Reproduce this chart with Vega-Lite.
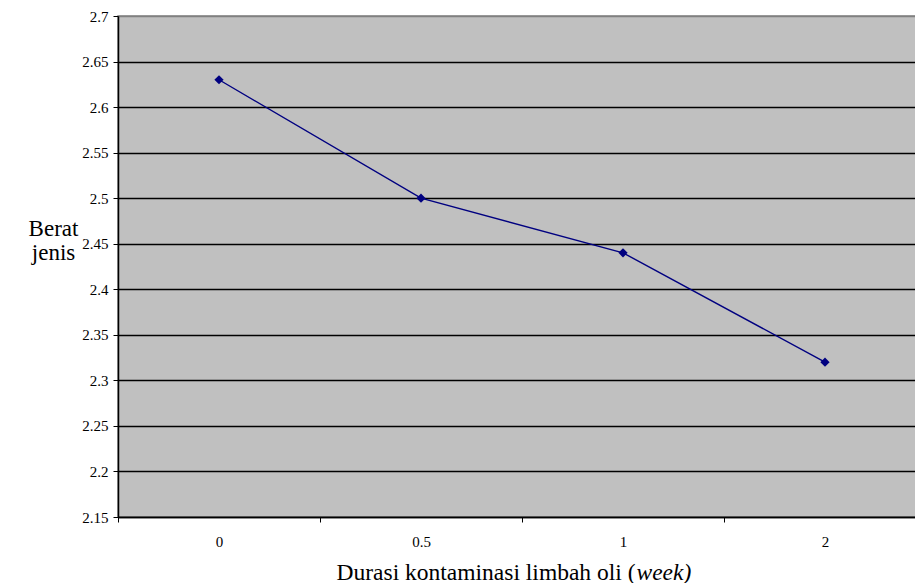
{
  "$schema": "https://vega.github.io/schema/vega-lite/v6.json",
  "autosize": {"type": "none"},
  "padding": {"left": 118, "top": 16, "right": 0, "bottom": 66},
  "width": 808,
  "height": 501,
  "background": "white",
  "config": {
    "font": "Liberation Serif",
    "view": {"fill": "#C0C0C0", "stroke": "#808080", "strokeWidth": 1.5}
  },
  "data": {
    "values": [
      {"durasi": "0", "berat": 2.63},
      {"durasi": "0.5", "berat": 2.5},
      {"durasi": "1", "berat": 2.44},
      {"durasi": "2", "berat": 2.32}
    ]
  },
  "encoding": {
    "x": {
      "field": "durasi",
      "type": "ordinal",
      "sort": null,
      "scale": {"type": "band", "paddingInner": 0, "paddingOuter": 0}
    },
    "y": {
      "field": "berat",
      "type": "quantitative",
      "scale": {"domain": [2.15, 2.7], "nice": false, "zero": false},
      "axis": {
        "title": ["Berat", "jenis"],
        "titleAngle": 0,
        "titleAlign": "center",
        "titleBaseline": "middle",
        "titleX": -65,
        "titleY": 212,
        "titleLineHeight": 24,
        "titleFont": "Liberation Serif",
        "titleFontSize": 23,
        "titleFontWeight": "normal",
        "titleColor": "black",
        "values": [2.15, 2.2, 2.25, 2.3, 2.35, 2.4, 2.45, 2.5, 2.55, 2.6, 2.65, 2.7],
        "format": "~g",
        "labelFont": "Liberation Serif",
        "labelFontSize": 15,
        "labelColor": "black",
        "labelPadding": 5,
        "tickColor": "black",
        "tickSize": 5,
        "domainColor": "black",
        "domainWidth": 1.5,
        "grid": true,
        "gridColor": {"condition": {"test": "datum.value >= 2.69", "value": "#808080"}, "value": "black"},
        "gridWidth": 1.3,
        "gridOpacity": 1
      }
    }
  },
  "resolve": {"axis": {"x": "independent"}},
  "layer": [
    {
      "mark": {"type": "line", "color": "#000080", "strokeWidth": 1.4},
      "encoding": {
        "x": {
          "field": "durasi",
          "type": "ordinal",
          "sort": null,
          "scale": {"type": "band", "paddingInner": 0, "paddingOuter": 0},
          "axis": {
            "orient": "bottom",
            "title": "Durasi kontaminasi limbah oli (",
            "titleFont": "Liberation Serif",
            "titleFontSize": 23.5,
            "titleFontWeight": "normal",
            "titleColor": "black",
            "titleAlign": "right",
            "titleAnchor": null,
            "titleX": 517,
            "titleY": 55,
            "titleBaseline": "middle",
            "labelAngle": 0,
            "labelFont": "Liberation Serif",
            "labelFontSize": 15,
            "labelColor": "black",
            "labelPadding": 12,
            "tickBand": "extent",
            "tickColor": "black",
            "tickSize": 5,
            "domainColor": "black",
            "domainWidth": 1.5,
            "grid": false
          }
        }
      }
    },
    {
      "mark": {"type": "point", "shape": "diamond", "filled": true, "color": "#000080", "size": 85, "opacity": 1},
      "encoding": {
        "x": {
          "field": "durasi",
          "type": "ordinal",
          "sort": null,
          "scale": {"type": "band", "paddingInner": 0, "paddingOuter": 0},
          "axis": {
            "orient": "top",
            "title": "week)",
            "titleFont": "Liberation Serif",
            "titleFontSize": 23.5,
            "titleFontWeight": "normal",
            "titleFontStyle": "italic",
            "titleColor": "black",
            "titleAlign": "left",
            "titleAnchor": null,
            "titleX": 518,
            "titleY": 556,
            "titleBaseline": "middle",
            "labels": false,
            "ticks": false,
            "domain": false,
            "grid": false
          }
        }
      }
    }
  ]
}
